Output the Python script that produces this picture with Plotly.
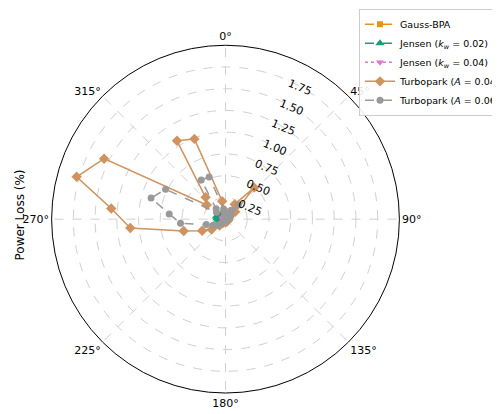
import numpy as np
import plotly.graph_objects as go

n_dir = 34
theta = [i * 360.0 / n_dir for i in range(n_dir)]

gauss_bpa = [0.03,0.03,0.03,0.04,0.05,0.04,0.03,0.02,0.02,0.02,0.02,0.02,0.02,0.02,0.02,0.02,0.02,0.02,0.02,0.02,0.02,0.03,0.03,0.03,0.03,0.04,0.04,0.04,0.04,0.03,0.03,0.04,0.04,0.03]
jensen_002 = [0.04,0.03,0.03,0.04,0.05,0.04,0.03,0.02,0.02,0.02,0.02,0.02,0.02,0.02,0.02,0.02,0.02,0.02,0.02,0.02,0.03,0.04,0.05,0.06,0.07,0.09,0.10,0.11,0.10,0.07,0.06,0.08,0.08,0.05]
jensen_004 = [0.02,0.02,0.02,0.02,0.03,0.02,0.02,0.01,0.01,0.01,0.01,0.01,0.01,0.01,0.01,0.01,0.01,0.01,0.01,0.01,0.01,0.02,0.02,0.02,0.02,0.03,0.03,0.03,0.03,0.02,0.02,0.03,0.03,0.02]
turbo_004 = [0.08,0.05,0.07,0.20,0.49,0.14,0.05,0.03,0.03,0.03,0.03,0.03,0.03,0.03,0.03,0.03,0.03,0.03,0.03,0.03,0.05,0.10,0.20,0.30,0.50,1.10,1.32,1.78,1.56,0.27,0.34,1.06,0.99,0.21]
turbo_006 = [0.05,0.04,0.05,0.12,0.22,0.08,0.04,0.02,0.02,0.02,0.02,0.02,0.02,0.02,0.02,0.02,0.02,0.02,0.02,0.02,0.03,0.07,0.12,0.16,0.23,0.52,0.65,0.89,0.77,0.13,0.16,0.53,0.52,0.12]

def closed(a):
    return list(a) + [a[0]]

fig = go.Figure()
series = [
    ("Gauss-BPA", gauss_bpa, "#E5931F", "square", "dash", 6),
    ("Jensen (<i>k<sub>w</sub></i> = 0.02)", jensen_002, "#1B9E77", "triangle-up", "dashdot", 8),
    ("Jensen (<i>k<sub>w</sub></i> = 0.04)", jensen_004, "#DA77D0", "triangle-down", "dot", 7),
    ("Turbopark (<i>A</i> = 0.04)", turbo_004, "#D0925E", "diamond", "solid", 8),
    ("Turbopark (<i>A</i> = 0.06)", turbo_006, "#999999", "circle", "dash", 7),
]
for name, r, c, sym, dash, sz in series:
    fig.add_trace(go.Scatterpolar(r=closed(r), theta=closed(theta), name=name, mode="lines+markers",
                                  line=dict(color=c, dash=dash, width=1.5),
                                  marker=dict(symbol=sym, size=sz, color=c)))

fig.update_layout(
    width=500, height=414, margin=dict(l=0, r=0, t=0, b=0),
    paper_bgcolor="white", font=dict(family="DejaVu Sans", size=11, color="black"),
    polar=dict(
        domain=dict(x=[0.07, 0.80], y=[0.07, 0.91]),
        bgcolor="white",
        angularaxis=dict(rotation=90, direction="clockwise", tickmode="array",
                         tickvals=[0,45,90,135,180,225,270,315],
                         ticktext=["0°","45°","90°","135°","180°","225°","270°","315°"],
                         showgrid=True, gridcolor="#d0d0d0", griddash="dash", linecolor="black",
                         ticks="", showline=True),
        radialaxis=dict(range=[0, 2.0], angle=67.5, tickvals=[0.25,0.5,0.75,1.0,1.25,1.5,1.75,2.0],
                        ticktext=["0.25","0.50","0.75","1.00","1.25","1.50","1.75",""],
                        showline=False, ticks="", gridcolor="#d0d0d0", griddash="dash",
                        tickfont=dict(size=11)),
    ),
    legend=dict(x=0.998, y=0.998, xanchor="right", yanchor="top", bordercolor="#cccccc", borderwidth=1,
                font=dict(size=9.5), bgcolor="rgba(255,255,255,0.9)", tracegroupgap=0,
                itemwidth=30),
    annotations=[dict(text="Power Loss (%)", x=0.005, y=0.5, xref="paper", yref="paper", textangle=-90,
                      xanchor="left", showarrow=False, font=dict(size=12))],
)
fig.write_html("out.html")
